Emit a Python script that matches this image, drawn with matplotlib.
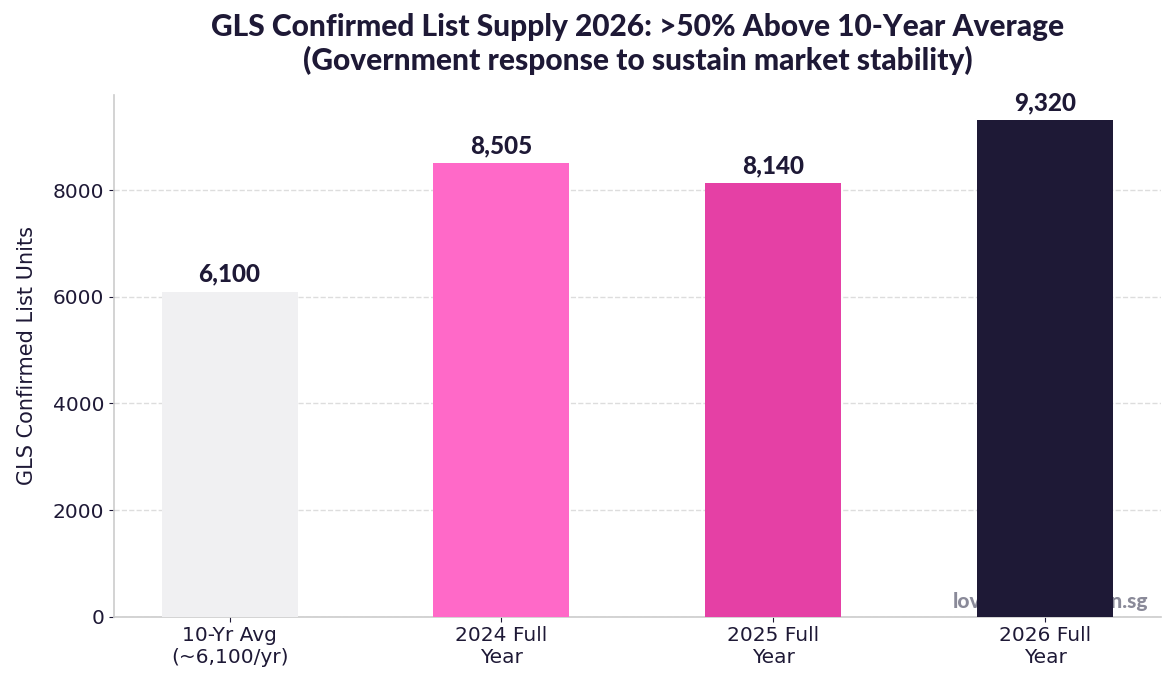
import numpy as np
import matplotlib
matplotlib.use("Agg")
import matplotlib.pyplot as plt

# data
categories = ["10-Yr Avg\n(~6,100/yr)", "2024 Full\nYear", "2025 Full\nYear", "2026 Full\nYear"]
units = [6100, 8505, 8140, 9320]
bar_colors = ["#F0F0F2", "#FF69C8", "#E540A5", "#1E1936"]
yticks = [0, 2000, 4000, 6000, 8000]

ink = "#1E1936"
head_font = ["Lato", "DejaVu Sans"]
body_font = "DejaVu Sans"

fig, ax = plt.subplots(figsize=(11.75, 6.89), dpi=100)
fig.subplots_adjust(left=0.097, right=0.988, bottom=0.105, top=0.862)

x = np.arange(len(categories))
bars = ax.bar(x, units, width=0.5, color=bar_colors, zorder=3)

for b, v in zip(bars, units):
    ax.text(b.get_x() + b.get_width() / 2, v + 110, f"{v:,}",
            ha="center", va="bottom", fontsize=17.5, fontweight="black",
            family=head_font, color=ink, zorder=4)

ax.set_ylim(0, max(units) * 1.05)
ax.set_xticks(x)
ax.set_xticklabels(categories, fontsize=14.5, color=ink, family=body_font)
ax.set_yticks(yticks)
ax.set_yticklabels([f"{t}" for t in yticks],
                   fontsize=14.5, color=ink, family=body_font)
ax.tick_params(axis="both", color=ink)
ax.set_ylabel("GLS Confirmed List Units", fontsize=15, color=ink,
              family=body_font, labelpad=11)

ax.grid(axis="y", linestyle="--", color="#DDDDDD", linewidth=1, zorder=0)
for side in ["top", "right"]:
    ax.spines[side].set_visible(False)
for side in ["left", "bottom"]:
    ax.spines[side].set_color("#CCCCCC")
    ax.spines[side].set_linewidth(1.2)

ax.set_title("GLS Confirmed List Supply 2026: >50% Above 10-Year Average\n"
             "(Government response to sustain market stability)",
             fontsize=21.5, fontweight="black", family=head_font, color=ink,
             linespacing=1.2, pad=18)

# watermark sits behind the bars
ax.text(0.988, 0.01, "lovelyhomedesign.sg", transform=ax.transAxes,
        ha="right", va="bottom", fontsize=15, fontweight="black",
        family=head_font, color="#8A8A99", zorder=1)

fig.savefig("out.png", dpi=100)
